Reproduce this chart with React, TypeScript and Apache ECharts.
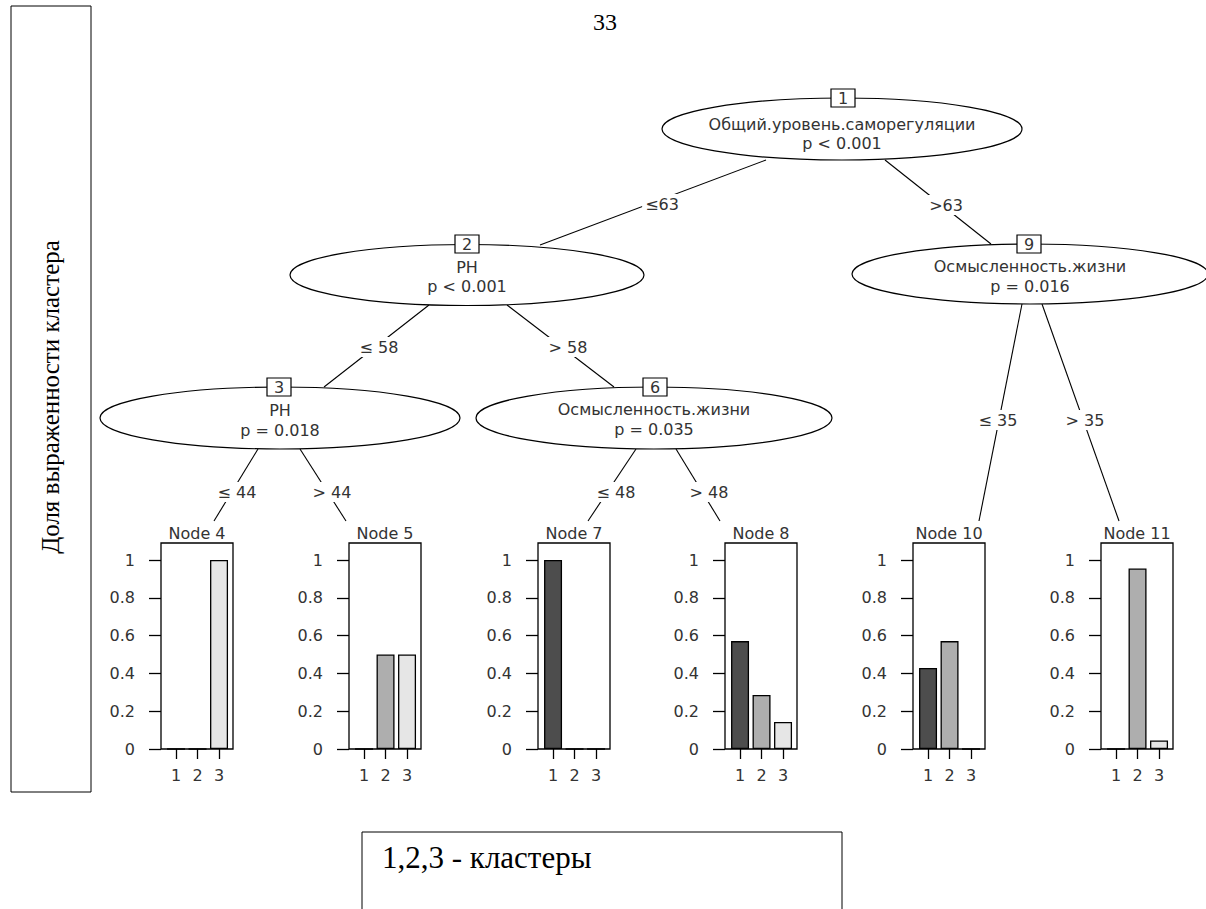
import React, { useEffect, useRef } from "react";
import * as echarts from "echarts";

// ---------- data ----------
const clusterTicks = [1, 2, 3];
const clusterLabels = ["1", "2", "3"];
const yTicks = [0, 0.2, 0.4, 0.6, 0.8, 1];
const nodeTitles = ["Node 4", "Node 5", "Node 7", "Node 8", "Node 10", "Node 11"];
const cluster1 = [0, 0, 1, 0.571, 0.429, 0];
const cluster2 = [0, 0.5, 0, 0.286, 0.571, 0.955];
const cluster3 = [1, 0.5, 0, 0.143, 0, 0.045];

const innerIds = ["1", "2", "3", "6", "9"];
const innerVars = [
  "Общий.уровень.саморегуляции",
  "PH",
  "PH",
  "Осмысленность.жизни",
  "Осмысленность.жизни",
];
const innerP = ["p < 0.001", "p < 0.001", "p = 0.018", "p = 0.035", "p = 0.016"];
const edgeLabels = ["≤63", ">63", "≤ 58", "> 58", "≤ 44", "> 44", "≤ 48", "> 48", "≤ 35", "> 35"];

const yAxisTitle = "Доля выраженности кластера";
const noteText = "1,2,3 - кластеры";
const pageNumber = "33";

// ---------- layout / style ----------
const barColors = ["#4D4D4D", "#AEAEAE", "#E6E6E6"];
const panelLeft = [161, 349, 538, 725, 913, 1101];
const panelTop = 543;
const panelW = 72;
const panelH = 206;

const nodeGeom = [
  { cx: 842, cy: 129, rx: 180, ry: 31, bx: 843, by: 98, t1: 124.5, t2: 143 },
  { cx: 467, cy: 275, rx: 177, ry: 30.5, bx: 467, by: 244, t1: 267, t2: 286 },
  { cx: 280, cy: 418, rx: 180, ry: 31, bx: 279, by: 387, t1: 410, t2: 430 },
  { cx: 654, cy: 418, rx: 178, ry: 31, bx: 655, by: 387, t1: 409, t2: 429 },
  { cx: 1030, cy: 274, rx: 178, ry: 30, bx: 1029, by: 244, t1: 266, t2: 286 },
];
const edgeGeom = [
  [766, 160, 540, 245],
  [885, 160, 991, 244],
  [429, 305, 324, 387],
  [507, 305, 614, 387],
  [258, 449, 214, 521],
  [300, 449, 346, 521],
  [636, 449, 588, 521],
  [676, 449, 720, 521],
  [1022, 304, 979, 521],
  [1042, 304, 1119, 521],
];
const edgeLabelPos = [
  [662, 204], [946, 205], [379, 347], [568, 347], [237, 492],
  [332, 492], [616, 492], [709, 492], [998, 420], [1085, 420],
];

const SANS = "DejaVu Sans";
const SERIF = "'Liberation Serif', 'Times New Roman', serif";
const TXT = "#333";
const FS = 16;

function txt(x: number, y: number, text: string, opts: any = {}) {
  const align = opts.align || "center";
  return {
    type: "text",
    x,
    y,
    rotation: opts.rotation || 0,
    z: opts.z || 10,
    style: {
      text,
      fill: opts.fill || TXT,
      fontSize: opts.fontSize || FS,
      fontFamily: opts.fontFamily || SANS,
      align,
      textAlign: align,
      verticalAlign: "middle",
      textVerticalAlign: "middle",
      backgroundColor: opts.bg,
      padding: opts.padding,
    },
  };
}

export default function App() {
  const ref = useRef<HTMLDivElement>(null);

  useEffect(() => {
    if (!ref.current) return;
    const chart = echarts.init(ref.current, undefined, { renderer: "svg" });

    const grids = panelLeft.map((l) => ({
      left: l,
      top: panelTop,
      width: panelW,
      height: panelH,
      show: true,
      borderColor: "#000",
      borderWidth: 1.3,
      backgroundColor: "rgba(0,0,0,0)",
    }));

    const xAxes = panelLeft.map((_, i) => ({
      type: "value",
      gridIndex: i,
      min: 0.3,
      max: 3.65,
      axisLine: { show: false },
      splitLine: { show: false },
      axisTick: {
        show: true,
        length: 10,
        customValues: clusterTicks,
        lineStyle: { color: "#000", width: 1.3 },
      },
      axisLabel: {
        customValues: clusterTicks,
        formatter: (v: number) => clusterLabels[clusterTicks.indexOf(v)] ?? "",
        margin: 18,
        fontSize: FS,
        fontFamily: SANS,
        color: TXT,
      },
    }));

    const yAxes = panelLeft.map((_, i) => ({
      type: "value",
      gridIndex: i,
      min: 0,
      max: 1.09,
      axisLine: { show: false },
      splitLine: { show: false },
      axisTick: {
        show: true,
        length: 12,
        customValues: yTicks,
        lineStyle: { color: "#000", width: 1.3 },
      },
      axisLabel: {
        customValues: yTicks,
        margin: 26,
        fontSize: FS,
        fontFamily: SANS,
        color: TXT,
      },
    }));

    const series = panelLeft.map((_, i) => ({
      type: "bar",
      xAxisIndex: i,
      yAxisIndex: i,
      barWidth: 18,
      data: [cluster1[i], cluster2[i], cluster3[i]].map((v, k) => ({
        value: [clusterTicks[k], v],
        itemStyle: { color: barColors[k], borderColor: "#000", borderWidth: 1.3 },
      })),
    }));

    const graphics: any[] = [];
    graphics.push({
      type: "rect",
      shape: { x: 11, y: 6, width: 80, height: 786 },
      style: { fill: "none", stroke: "#000", lineWidth: 1 },
    });
    graphics.push(txt(50, 397, yAxisTitle, { fontSize: 25, fontFamily: SERIF, fill: "#000", rotation: Math.PI / 2 }));
    graphics.push(txt(605, 22, pageNumber, { fontSize: 24, fontFamily: SERIF, fill: "#000" }));
    graphics.push({
      type: "rect",
      shape: { x: 362, y: 832, width: 480, height: 100 },
      style: { fill: "none", stroke: "#000", lineWidth: 1 },
    });
    graphics.push(txt(382, 857, noteText, { fontSize: 31, fontFamily: SERIF, fill: "#000", align: "left" }));

    edgeGeom.forEach(([x1, y1, x2, y2]) => {
      graphics.push({
        type: "line",
        z: 1,
        shape: { x1, y1, x2, y2 },
        style: { stroke: "#000", lineWidth: 1.1 },
      });
    });
    nodeGeom.forEach((g, i) => {
      graphics.push({
        type: "ellipse",
        z: 2,
        shape: { cx: g.cx, cy: g.cy, rx: g.rx, ry: g.ry },
        style: { fill: "#fff", stroke: "#000", lineWidth: 1.2 },
      });
      graphics.push({
        type: "rect",
        z: 3,
        shape: { x: g.bx - 12, y: g.by - 9, width: 24, height: 18 },
        style: { fill: "#fff", stroke: "#000", lineWidth: 1.2 },
      });
      graphics.push(txt(g.bx, g.by + 0.5, innerIds[i], { z: 4 }));
      graphics.push(txt(g.cx, g.t1, innerVars[i], { z: 4 }));
      graphics.push(txt(g.cx, g.t2, innerP[i], { z: 4 }));
    });
    edgeLabels.forEach((lab, i) => {
      const [x, y] = edgeLabelPos[i];
      graphics.push(txt(x, y, lab, { z: 5, bg: "#fff", padding: [2, 3] }));
    });
    nodeTitles.forEach((t, i) => {
      graphics.push(txt(panelLeft[i] + panelW / 2, 533, t, { z: 5 }));
    });

    chart.setOption({
      animation: false,
      backgroundColor: "#fff",
      grid: grids,
      xAxis: xAxes,
      yAxis: yAxes,
      series,
      graphic: { elements: graphics },
    });

    return () => chart.dispose();
  }, []);

  return (
    <div
      ref={ref}
      style={{ position: "fixed", left: 0, top: 0, width: 1206, height: 909, background: "#fff" }}
    />
  );
}
